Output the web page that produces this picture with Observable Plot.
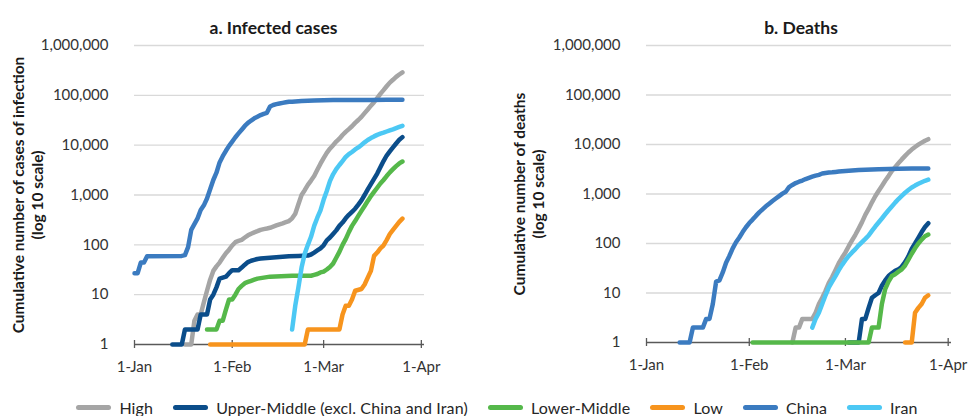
<!DOCTYPE html>
<html>
<head>
<meta charset="utf-8">
<script src="https://cdn.jsdelivr.net/npm/d3@7"></script>
<script src="https://cdn.jsdelivr.net/npm/@observablehq/plot@0.6"></script>
<style>
  body { margin: 0; background: #fff; font-family: Lato, "Open Sans", sans-serif; }
  #wrap { position: relative; width: 970px; height: 416px; overflow: hidden; }
  #left { position: absolute; left: 0; top: 0; }
  #right { position: absolute; left: 485px; top: 0; }
  #legend { position: absolute; left: 0; top: 396px; width: 970px; height: 22px; display: flex;
            justify-content: center; align-items: center; font-size: 16px; letter-spacing: 0.15px; color: #262626;
            padding-left: 24px; box-sizing: border-box; }
  .item { display: flex; align-items: center; margin-right: 20px; white-space: nowrap; }
  .item:last-child { margin-right: 0; }
  .sw { width: 35px; height: 5px; border-radius: 3px; margin-right: 8px; }
  g[aria-label="panel-title"] text { letter-spacing: 1.4px; }
  g[aria-label="axis-title"] text { letter-spacing: 0.45px; }
</style>
</head>
<body>
<div id="wrap">
  <div id="left"></div>
  <div id="right"></div>
  <div id="legend"></div>
</div>
<script>
// ---------- series names & colours ----------
const seriesNames = ["High", "Upper-Middle (excl. China and Iran)", "Lower-Middle", "Low", "China", "Iran"];
const seriesColors = ["#A5A5A5", "#0B4D8A", "#55B84A", "#F7941D", "#3B7BC0", "#4CC8F4"];

// ---------- tick labels ----------
const yTickValues = [1, 10, 100, 1000, 10000, 100000, 1000000];
const xTickDates = ["01-01", "02-01", "03-01", "04-01"];
const panelTitles = ["a. Infected cases", "b. Deaths"];
const yAxisTitles = ["Cumulative number of cases of infection\n(log 10 scale)", "Cumulative number of deaths\n(log 10 scale)"];

// ---------- a. Infected cases (date MM-DD, 2020) ----------
const casesHigh = [["01-17",1],["01-19",1],["01-20",3],["01-21",4],["01-22",4],["01-23",7],["01-24",12],["01-25",20],["01-26",30],["01-27",37],["01-28",44],["01-29",55],["01-30",68],["01-31",80],["02-01",97],["02-02",113],["02-03",120],["02-04",126],["02-05",140],["02-06",155],["02-07",167],["02-08",178],["02-09",188],["02-10",200],["02-11",207],["02-12",213],["02-13",220],["02-14",232],["02-15",245],["02-16",258],["02-17",270],["02-18",285],["02-19",300],["02-20",340],["02-21",420],["02-22",650],["02-23",1000],["02-24",1250],["02-25",1600],["02-26",1950],["02-27",2400],["02-28",3200],["02-29",4250],["03-01",5500],["03-02",7000],["03-03",8500],["03-04",10000],["03-05",11800],["03-06",13500],["03-07",16000],["03-08",18500],["03-09",21000],["03-10",24000],["03-11",28000],["03-12",32000],["03-13",37000],["03-14",44000],["03-15",52000],["03-16",62000],["03-17",73000],["03-18",88000],["03-19",107000],["03-20",127000],["03-21",152000],["03-22",180000],["03-23",205000],["03-24",235000],["03-25",262000],["03-26",290000]];
const casesUpperMiddle = [["01-13",1],["01-16",1],["01-17",2],["01-21",2],["01-22",4],["01-24",4],["01-25",8],["01-26",10],["01-27",14],["01-28",21],["01-29",22],["01-30",23],["01-31",27],["02-01",31],["02-03",31],["02-04",35],["02-05",40],["02-06",45],["02-07",48],["02-08",50],["02-09",52],["02-10",53],["02-11",54],["02-13",55],["02-16",57],["02-19",59],["02-22",60],["02-25",61],["02-26",64],["02-27",70],["02-28",77],["02-29",85],["03-01",98],["03-02",123],["03-03",140],["03-04",165],["03-05",195],["03-06",240],["03-07",280],["03-08",340],["03-09",400],["03-10",460],["03-11",530],["03-12",640],["03-13",780],["03-14",1000],["03-15",1300],["03-16",1650],["03-17",2100],["03-18",2700],["03-19",3600],["03-20",4800],["03-21",6200],["03-22",7500],["03-23",9000],["03-24",10800],["03-25",12800],["03-26",14500]];
const casesLowerMiddle = [["01-24",2],["01-27",2],["01-28",3],["01-29",3],["01-30",5],["01-31",8],["02-01",8],["02-02",10],["02-03",13],["02-04",15],["02-05",17],["02-06",18],["02-07",19],["02-08",20],["02-09",21],["02-11",22],["02-13",23],["02-20",24],["02-26",24],["02-27",25],["02-28",26],["02-29",28],["03-01",29],["03-02",32],["03-03",36],["03-04",42],["03-05",55],["03-06",72],["03-07",100],["03-08",130],["03-09",180],["03-10",240],["03-11",300],["03-12",380],["03-13",480],["03-14",600],["03-15",760],["03-16",950],["03-17",1150],["03-18",1400],["03-19",1700],["03-20",2000],["03-21",2400],["03-22",2850],["03-23",3300],["03-24",3800],["03-25",4300],["03-26",4700]];
const casesLow = [["01-25",1],["02-24",1],["02-25",2],["03-06",2],["03-07",4],["03-08",6],["03-09",6],["03-10",8],["03-11",12],["03-13",13],["03-14",16],["03-15",22],["03-16",30],["03-17",60],["03-18",70],["03-19",85],["03-20",97],["03-21",125],["03-22",165],["03-23",200],["03-24",240],["03-25",290],["03-26",335]];
const casesChina = [["01-01",27],["01-02",27],["01-03",44],["01-04",44],["01-05",59],["01-16",60],["01-17",62],["01-18",90],["01-19",200],["01-20",260],["01-21",340],["01-22",500],["01-23",620],["01-24",850],["01-25",1300],["01-26",2000],["01-27",2800],["01-28",4500],["01-29",6000],["01-30",7700],["01-31",9700],["02-01",11800],["02-02",14400],["02-03",17200],["02-04",20400],["02-05",24300],["02-06",28000],["02-07",31200],["02-08",34500],["02-09",37200],["02-10",40200],["02-11",42600],["02-12",44600],["02-13",59800],["02-14",63900],["02-15",66500],["02-16",68500],["02-17",70500],["02-18",72400],["02-19",74200],["02-20",74600],["02-21",75500],["02-23",76900],["02-25",77700],["02-27",78500],["03-01",79400],["03-04",80300],["03-07",80650],["03-11",80800],["03-16",80900],["03-21",81200],["03-26",81600]];
const casesIran = [["02-20",2],["02-21",6],["02-22",14],["02-23",35],["02-24",66],["02-25",100],["02-26",145],["02-27",240],["02-28",350],["02-29",490],["03-01",800],["03-02",1200],["03-03",1900],["03-04",2600],["03-05",3300],["03-06",4000],["03-07",4800],["03-08",5800],["03-09",6600],["03-10",7300],["03-11",8200],["03-12",9000],["03-13",10100],["03-14",11400],["03-15",12700],["03-16",13900],["03-17",15000],["03-18",16100],["03-19",17000],["03-20",17800],["03-21",18800],["03-22",19800],["03-23",20800],["03-24",22000],["03-25",23200],["03-26",24500]];

// ---------- b. Deaths ----------
const deathsHigh = [["02-14",1],["02-15",2],["02-16",2],["02-17",3],["02-20",3],["02-21",4],["02-22",6],["02-23",8],["02-24",11],["02-25",16],["02-26",21],["02-27",29],["02-28",40],["02-29",52],["03-01",66],["03-02",88],["03-03",115],["03-04",150],["03-05",200],["03-06",270],["03-07",380],["03-08",500],["03-09",680],["03-10",900],["03-11",1150],["03-12",1450],["03-13",1850],["03-14",2300],["03-15",2900],["03-16",3500],["03-17",4200],["03-18",5000],["03-19",5900],["03-20",6900],["03-21",7900],["03-22",8900],["03-23",9900],["03-24",10900],["03-25",11900],["03-26",12800]];
const deathsUpperMiddle = [["03-02",1],["03-05",1],["03-06",3],["03-07",3],["03-08",5],["03-09",8],["03-10",9],["03-11",10],["03-12",14],["03-13",18],["03-14",22],["03-15",25],["03-16",28],["03-17",30],["03-18",34],["03-19",42],["03-20",55],["03-21",78],["03-22",100],["03-23",130],["03-24",170],["03-25",215],["03-26",257]];
const deathsLowerMiddle = [["02-02",1],["03-08",1],["03-09",2],["03-11",2],["03-12",6],["03-13",12],["03-14",17],["03-15",22],["03-16",24],["03-17",27],["03-18",30],["03-19",36],["03-20",47],["03-21",62],["03-22",80],["03-23",100],["03-24",120],["03-25",140],["03-26",152]];
const deathsLow = [["03-19",1],["03-21",1],["03-22",4],["03-23",5],["03-24",6],["03-25",8],["03-26",9]];
const deathsChina = [["01-11",1],["01-14",1],["01-15",2],["01-18",2],["01-19",3],["01-20",3],["01-21",6],["01-22",17],["01-23",18],["01-24",26],["01-25",41],["01-26",56],["01-27",80],["01-28",106],["01-29",132],["01-30",170],["01-31",213],["02-01",259],["02-02",304],["02-03",361],["02-04",425],["02-05",490],["02-06",563],["02-07",636],["02-08",722],["02-09",811],["02-10",908],["02-11",1016],["02-12",1113],["02-13",1380],["02-14",1523],["02-15",1665],["02-16",1770],["02-17",1868],["02-18",2004],["02-19",2118],["02-20",2236],["02-21",2345],["02-22",2442],["02-23",2592],["02-24",2663],["02-25",2715],["02-26",2744],["02-27",2788],["02-28",2835],["02-29",2870],["03-01",2912],["03-03",2981],["03-05",3045],["03-07",3100],["03-09",3140],["03-11",3170],["03-14",3200],["03-17",3230],["03-21",3260],["03-26",3281]];
const deathsIran = [["02-20",2],["02-21",3],["02-22",4],["02-23",6],["02-24",9],["02-25",13],["02-26",17],["02-27",22],["02-28",29],["02-29",37],["03-01",46],["03-02",56],["03-03",66],["03-04",77],["03-05",92],["03-06",107],["03-07",124],["03-08",145],["03-09",180],["03-10",220],["03-11",265],["03-12",320],["03-13",390],["03-14",470],["03-15",560],["03-16",670],["03-17",790],["03-18",920],["03-19",1060],["03-20",1200],["03-21",1350],["03-22",1480],["03-23",1610],["03-24",1730],["03-25",1850],["03-26",1950]];

// ---------- build ----------
const toDate = md => new Date(`2020-${md}T00:00:00Z`);
function rowsOf(list) {
  const rows = [];
  list.forEach((s, i) => s.forEach(([md, v]) => rows.push({series: seriesNames[i], date: toDate(md), value: v})));
  return rows;
}
const casesRows = rowsOf([casesHigh, casesUpperMiddle, casesLowerMiddle, casesLow, casesChina, casesIran]);
const deathsRows = rowsOf([deathsHigh, deathsUpperMiddle, deathsLowerMiddle, deathsLow, deathsChina, deathsIran]);

const xTicks = xTickDates.map(toDate);
const gridValues = yTickValues.slice(1);

function panel({rows, marginLeft, marginRight, marginBottom, title, titleDx, ylabel, ylabelDx}) {
  return Plot.plot({
    width: 485,
    height: 380,
    marginLeft, marginRight, marginTop: 45, marginBottom,
    style: {fontFamily: "Lato, 'Open Sans', sans-serif", fontSize: "15px", color: "#333", background: "transparent", overflow: "visible"},
    x: {type: "utc", domain: [toDate("01-01"), toDate("04-02")]},
    y: {type: "log", domain: [1, 1e6]},
    color: {domain: seriesNames, range: seriesColors},
    marks: [
      Plot.ruleY(gridValues, {y: d => d, stroke: "#d9d9d9", strokeWidth: 1.3}),
      Plot.ruleY([1], {y: d => d, stroke: "#595959", strokeWidth: 1.3}),
      Plot.ruleX(xTicks, {x: d => d, y1: 1, y2: 1, insetTop: -4, insetBottom: -4, stroke: "#595959", strokeWidth: 1.3}),
      Plot.axisY(yTickValues, {tickSize: 0, tickPadding: 26, tickFormat: d3.format(","), label: null}),
      Plot.axisX(xTicks, {tickSize: 0, tickPadding: 17, tickFormat: d3.utcFormat("%-d-%b"), label: null}),
      Plot.line(rows, {x: "date", y: "value", z: "series", stroke: "series", strokeWidth: 4.5,
                       strokeLinecap: "round", strokeLinejoin: "round"}),
      Plot.text([title], {text: d => d, frameAnchor: "top", dx: titleDx, dy: -24, fontWeight: "bold",
                          fontSize: 17.5, fill: "#1a1a1a", ariaLabel: "panel-title"}),
      Plot.text([ylabel], {text: d => d, frameAnchor: "left", textAnchor: "middle", rotate: -90, dx: ylabelDx,
                           fontWeight: "bold", fontSize: 15.5, lineAnchor: "middle", lineHeight: 1.22,
                           fill: "#1a1a1a", ariaLabel: "axis-title"})
    ]
  });
}

document.getElementById("left").append(panel({
  rows: casesRows, marginLeft: 134, marginRight: 61, marginBottom: 36,
  title: panelTitles[0], titleDx: -6, ylabel: yAxisTitles[0], ylabelDx: -107.5
}));
document.getElementById("right").append(panel({
  rows: deathsRows, marginLeft: 161, marginRight: 19, marginBottom: 38,
  title: panelTitles[1], titleDx: 2, ylabel: yAxisTitles[1], ylabelDx: -118
}));

// ---------- legend ----------
const legend = document.getElementById("legend");
seriesNames.forEach((name, i) => {
  const item = document.createElement("div");
  item.className = "item";
  const sw = document.createElement("span");
  sw.className = "sw";
  sw.style.background = seriesColors[i];
  const label = document.createElement("span");
  label.textContent = name;
  item.append(sw, label);
  legend.append(item);
});
</script>
</body>
</html>
